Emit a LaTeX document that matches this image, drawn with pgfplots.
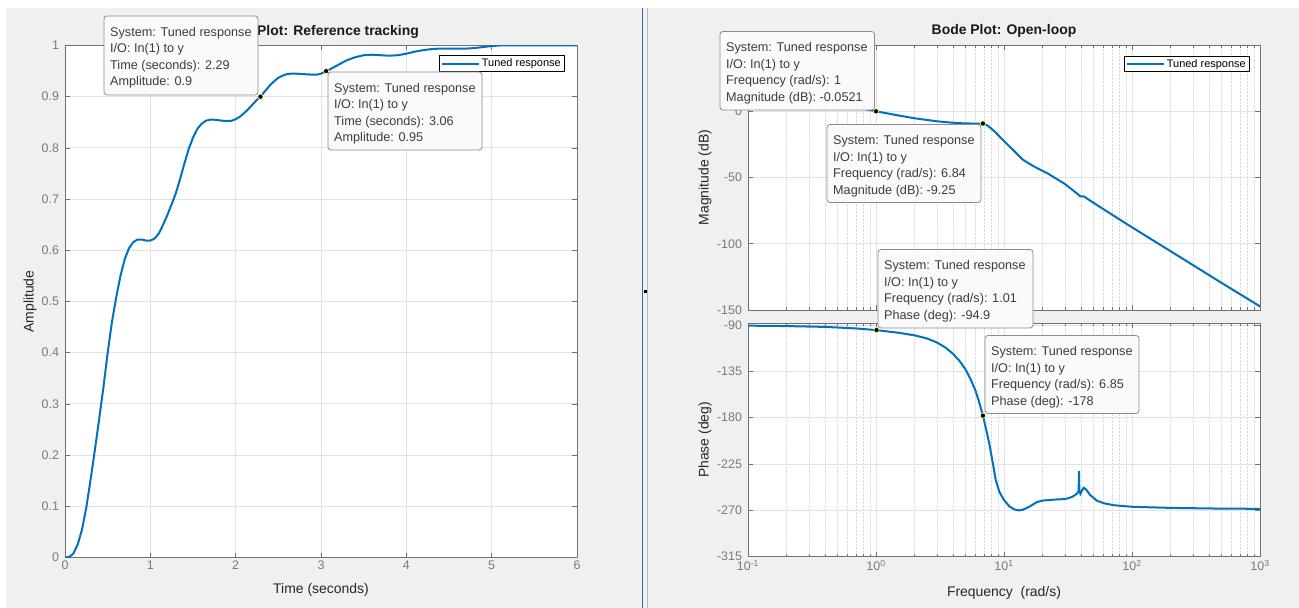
\documentclass[border=0pt]{standalone}
\usepackage{pgfplots}
\pgfplotsset{compat=1.18}
\usepackage{pgfplotstable}
\usepackage{fontspec}
\setmainfont{Liberation Sans}
\definecolor{mblue}{HTML}{0072BD}
\definecolor{bggray}{HTML}{F0F0F0}
\definecolor{axgray}{HTML}{707070}
\definecolor{tkgray}{HTML}{7A7A7A}
\definecolor{grdgray}{HTML}{E2E2E2}
\definecolor{mingray}{HTML}{DCDCDC}
\definecolor{tipfill}{HTML}{FAFAFD}
\definecolor{tipdraw}{HTML}{8C8C8C}
\definecolor{tiptext}{HTML}{3C3C3C}
\definecolor{sepblue}{HTML}{2B6CB0}

\pgfplotstableread{
t A
0 0
0.05 0.001
0.1 0.008
0.15 0.026
0.2 0.055
0.25 0.098
0.3 0.152
0.35 0.21
0.4 0.27
0.45 0.332
0.5 0.40
0.55 0.46
0.6 0.508
0.65 0.55
0.7 0.583
0.75 0.604
0.8 0.616
0.85 0.621
0.9 0.621
0.95 0.619
1.0 0.619
1.05 0.623
1.1 0.633
1.15 0.65
1.2 0.669
1.25 0.69
1.3 0.712
1.35 0.74
1.4 0.77
1.45 0.798
1.5 0.82
1.55 0.837
1.6 0.847
1.65 0.853
1.7 0.855
1.75 0.855
1.8 0.854
1.85 0.853
1.9 0.853
1.95 0.853
2.0 0.856
2.05 0.861
2.1 0.868
2.15 0.876
2.2 0.885
2.25 0.894
2.29 0.90
2.35 0.912
2.4 0.922
2.45 0.930
2.5 0.937
2.55 0.941
2.6 0.944
2.65 0.945
2.7 0.945
2.8 0.944
2.9 0.943
2.95 0.943
3.0 0.945
3.06 0.95
3.1 0.953
3.2 0.962
3.3 0.971
3.4 0.977
3.5 0.981
3.6 0.982
3.7 0.981
3.8 0.980
3.9 0.981
4.0 0.984
4.1 0.988
4.2 0.991
4.3 0.993
4.4 0.994
4.5 0.994
4.6 0.994
4.7 0.994
4.8 0.995
4.9 0.997
5.0 0.999
5.1 1.0
5.5 1.0
6.0 1.0
}\steptable

\pgfplotstableread{
w dB
0.1 19.5
0.2 13.8
0.5 5.8
1 -0.05
1.5 -3.2
2 -5.3
3 -7.6
4 -8.7
5 -9.2
6 -9.3
6.84 -9.25
7.5 -11
8.5 -15.5
10 -22.5
12 -30
14 -36.5
17 -41.5
22 -47
30 -55
38 -62.8
39.5 -64.3
42 -64.2
45 -66.2
60 -74
100 -87.6
200 -105.6
500 -129.5
1000 -147.3
}\magtable

\pgfplotstableread{
w ph
0.1 -90.6
0.2 -91.0
0.4 -91.8
0.7 -93.3
1.0 -94.9
1.5 -97.5
2.0 -100
2.5 -103
3.0 -107
3.5 -112
4.0 -118
4.5 -125
5.0 -133
5.5 -143
6.0 -154
6.4 -165
6.85 -178
7.3 -193
7.7 -206
8.2 -225
8.6 -240
9.2 -252
10 -260
11 -266
12 -269
13 -270
14 -269.5
16 -266
18 -262
20 -260.5
25 -259.5
30 -259
34 -257
37 -254
38.3 -251
38.5 -232
38.8 -251
39.5 -254
41 -250
42 -248
44 -250
47 -255
53 -260.5
60 -263
72 -265
100 -266.5
200 -267.6
500 -268.3
1000 -268.5
}\phtable

\pgfplotsset{
 mstyle/.style={
   scale only axis,
   axis background/.style={fill=white},
   axis line style={axgray, line width=0.8bp},
   every tick/.style={axgray, line width=0.6bp},
   tick align=inside,
   major tick length=5bp,
   minor tick length=3bp,
   grid=major,
   major grid style={grdgray, line width=0.8bp},
   tick label style={font=\fontsize{12.5}{14}\selectfont, text=tkgray},
   yticklabel style={xshift=-2.5bp},
   /pgf/number format/assume math mode=true,
   label style={font=\fontsize{14}{16}\selectfont, text=black!85},
   title style={font=\fontsize{14}{16}\selectfont\bfseries, text=black!90},
   legend cell align=left,
   legend style={font=\fontsize{11}{13}\selectfont, draw=black, line width=0.6bp, inner xsep=2bp, inner ysep=1bp},
   legend image code/.code={\draw[mblue, line width=2bp] (0bp,0bp) -- (37bp,0bp);},
 },
 tipmark/.style={only marks, mark=*, mark size=2.6bp, mark options={fill=black, draw=yellow!55!white, line width=0.6bp}, forget plot},
}

\newcommand{\tip}[8]{%
 \draw[tipdraw, fill=tipfill, rounded corners=3bp, line width=0.8bp] (#1,#2) rectangle (#3,#4);
 \node[anchor=base west, inner sep=0, text=tiptext, font=\fontsize{12.7}{15}\selectfont] at (#1+6,#2+20.5) {#5};
 \node[anchor=base west, inner sep=0, text=tiptext, font=\fontsize{12.7}{15}\selectfont] at (#1+6,#2+37) {#6};
 \node[anchor=base west, inner sep=0, text=tiptext, font=\fontsize{12.7}{15}\selectfont] at (#1+6,#2+53.5) {#7};
 \node[anchor=base west, inner sep=0, text=tiptext, font=\fontsize{12.7}{15}\selectfont] at (#1+6,#2+70) {#8};
}

\begin{document}
\begin{tikzpicture}
\fill[bggray] (0,0) rectangle (1299bp,608bp);
\useasboundingbox (0,0) rectangle (1299bp,608bp);
\fill[white] (0,600bp) rectangle (1299bp,608bp);
\fill[white] (0,0) rectangle (6bp,608bp);
\draw[sepblue, line width=1bp] (642bp,0) -- (642bp,600bp);
\draw[gray!55, line width=1bp] (647.5bp,0) -- (647.5bp,600bp);
\fill[black] (643.5bp,314.5bp) rectangle (646.5bp,317.5bp);

% Step response
\begin{axis}[mstyle, at={(65bp,50.5bp)}, anchor=south west, width=512bp, height=512bp,
  xmin=0, xmax=6, ymin=0, ymax=1,
  xtick={0,1,2,3,4,5,6},
  ytick={0,0.1,0.2,0.3,0.4,0.5,0.6,0.7,0.8,0.9,1},
  title={Step Plot: Reference tracking},
  title style={at={(axis description cs:0.5,1)}, anchor=center, yshift=7.5bp},
  xlabel={Time (seconds)},
  xlabel style={at={(axis description cs:0.5,0)}, anchor=center, yshift=-32bp},
  ylabel={Amplitude},
  ylabel style={at={(axis description cs:-0.0684,0.5)}, anchor=center},
  legend style={at={(axis description cs:1,1)}, anchor=north east, xshift=-12bp, yshift=-10bp},
]
\addplot[mblue, line width=2bp] table[x=t, y=A] {\steptable};
\addlegendentry{Tuned response}
\addplot[tipmark] coordinates {(2.29,0.9) (3.06,0.95)};
\end{axis}

% Bode magnitude
\begin{axis}[mstyle, at={(748bp,298bp)}, anchor=south west, width=512bp, height=265bp,
  xmode=log, xmin=0.1, xmax=1000, ymin=-150, ymax=50,
  xtick={0.1,1,10,100,1000}, xticklabels={},
  minor xtick={0.2,0.3,0.4,0.5,0.6,0.7,0.8,0.9,2,3,4,5,6,7,8,9,20,30,40,50,60,70,80,90,200,300,400,500,600,700,800,900},
  xminorgrids, minor grid style={mingray, densely dotted, line width=0.7bp},
  ytick={-150,-100,-50,0},
  title={Bode Plot: Open-loop},
  title style={at={(axis description cs:0.5,1)}, anchor=center, yshift=8bp},
  ylabel={Magnitude (dB)},
  ylabel style={at={(axis description cs:-0.084,0.5)}, anchor=center},
  legend style={at={(axis description cs:1,1)}, anchor=north east, xshift=-10bp, yshift=-11bp},
]
\addplot[mblue, line width=2bp] table[x=w, y=dB] {\magtable};
\addlegendentry{Tuned response}
\addplot[tipmark] coordinates {(1,-0.0521) (6.84,-9.25)};
\end{axis}

% Bode phase
\begin{axis}[mstyle, at={(748bp,51.3bp)}, anchor=south west, width=512bp, height=233.4bp,
  xmode=log, xmin=0.1, xmax=1000, ymin=-315, ymax=-88.3,
  xtick={0.1,1,10,100,1000},
  xticklabels={10\textsuperscript{-1},10\textsuperscript{0},10\textsuperscript{1},10\textsuperscript{2},10\textsuperscript{3}},
  minor xtick={0.2,0.3,0.4,0.5,0.6,0.7,0.8,0.9,2,3,4,5,6,7,8,9,20,30,40,50,60,70,80,90,200,300,400,500,600,700,800,900},
  xminorgrids, minor grid style={mingray, densely dotted, line width=0.7bp},
  ytick={-315,-270,-225,-180,-135,-90},
  xlabel={Frequency\ \ (rad/s)},
  xlabel style={at={(axis description cs:0.5,0)}, anchor=center, yshift=-36bp},
  ylabel={Phase (deg)},
  ylabel style={at={(axis description cs:-0.084,0.5)}, anchor=center},
]
\addplot[mblue, line width=2bp] table[x=w, y=ph] {\phtable};
\addplot[tipmark] coordinates {(1.01,-94.9) (6.85,-178)};
\end{axis}

% Data tips
\begin{scope}[yshift=608bp, x=1bp, y=-1bp]
\tip{104}{16}{258}{95}{System: Tuned response}{I/O: In(1) to y}{Time (seconds): 2.29}{Amplitude: 0.9}
\tip{328}{72}{482}{150}{System: Tuned response}{I/O: In(1) to y}{Time (seconds): 3.06}{Amplitude: 0.95}
\tip{720}{31.5}{874.5}{110}{System: Tuned response}{I/O: In(1) to y}{Frequency (rad/s): 1}{Magnitude (dB): -0.0521}
\tip{827}{124.5}{981}{202.5}{System: Tuned response}{I/O: In(1) to y}{Frequency (rad/s): 6.84}{Magnitude (dB): -9.25}
\tip{878}{249.5}{1033}{328}{System: Tuned response}{I/O: In(1) to y}{Frequency (rad/s): 1.01}{Phase (deg): -94.9}
\tip{985}{335.5}{1139}{413.5}{System: Tuned response}{I/O: In(1) to y}{Frequency (rad/s): 6.85}{Phase (deg): -178}
\end{scope}
\end{tikzpicture}
\end{document}
